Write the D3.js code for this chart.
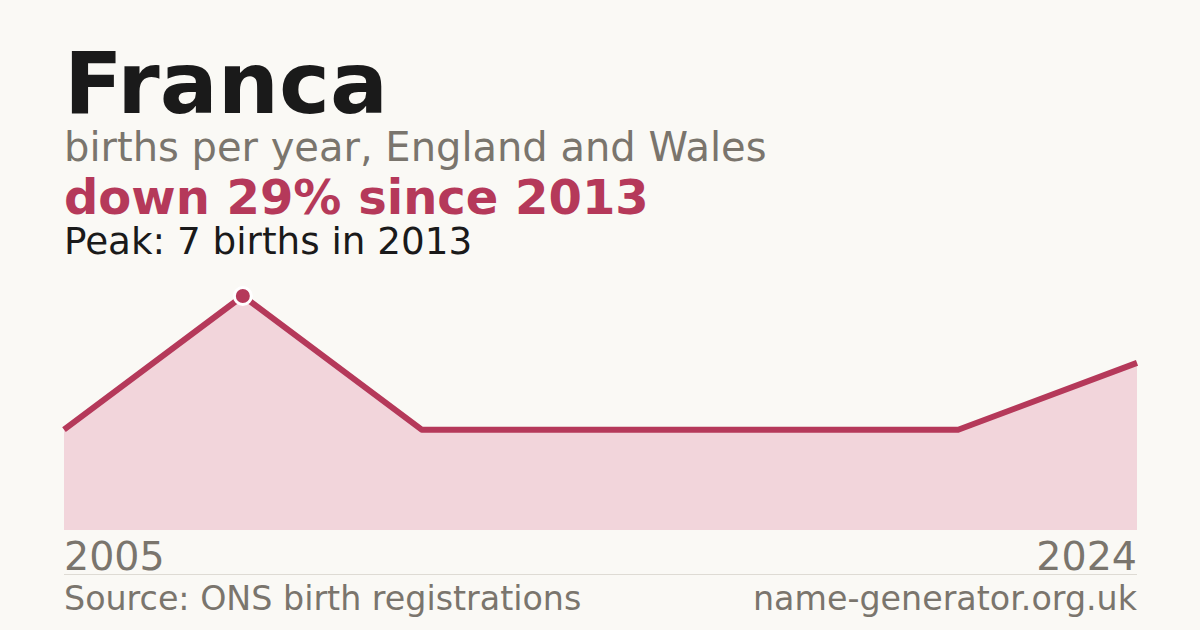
<!DOCTYPE html>
<html>
<head>
<meta charset="utf-8">
<script src="https://cdn.jsdelivr.net/npm/d3@7"></script>
<style>
  html, body { margin: 0; padding: 0; background: #faf9f5; }
  svg { display: block; font-family: "DejaVu Sans", sans-serif; }
</style>
</head>
<body>
<svg id="chart"></svg>
<script>
let width = 1200;
let height = 630;

// data
let years = [2005, 2013, 2016, 2018, 2020, 2022, 2024];
let births = [3, 7, 3, 3, 3, 3, 5];
let peakYear = 2013;
let peakValue = 7;

let title = 'Franca';
let subtitle = 'births per year, England and Wales';
let change = 'down 29% since 2013';
let peakNote = 'Peak: 7 births in 2013';
let source = 'Source: ONS birth registrations';
let site = 'name-generator.org.uk';

let accent = '#b5395a';
let grey = '#7a756d';

let svg = d3.select('#chart')
    .attr('width', width)
    .attr('height', height);

svg.append('rect')
    .attr('width', width)
    .attr('height', height)
    .attr('fill', '#faf9f5');

// header texts
svg.append('text')
    .attr('x', 64).attr('y', 113)
    .attr('font-size', 86).attr('font-weight', 'bold')
    .attr('fill', '#1a1a1a')
    .text(title);
svg.append('text')
    .attr('x', 64).attr('y', 161)
    .attr('font-size', 40)
    .attr('fill', grey)
    .text(subtitle);
svg.append('text')
    .attr('x', 64).attr('y', 214)
    .attr('font-size', 48).attr('font-weight', 'bold')
    .attr('fill', accent)
    .text(change);
svg.append('text')
    .attr('x', 64).attr('y', 254)
    .attr('font-size', 37.3)
    .attr('fill', '#1a1a1a')
    .text(peakNote);

// scales
let x = d3.scalePoint()
    .domain(years)
    .range([64, 1137]);
let y = d3.scaleLinear()
    .domain([0, d3.max(births)])
    .range([530, 296]);

let points = years.map((yr, i) => ({year: yr, value: births[i]}));

let area = d3.area()
    .x(d => x(d.year))
    .y0(y(0))
    .y1(d => y(d.value));
let line = d3.line()
    .x(d => x(d.year))
    .y(d => y(d.value));

svg.append('path')
    .datum(points)
    .attr('d', area)
    .attr('fill', '#f2d5db');

svg.append('path')
    .datum(points)
    .attr('d', line)
    .attr('fill', 'none')
    .attr('stroke', accent)
    .attr('stroke-width', 6)
    .attr('stroke-linejoin', 'round');

// peak marker
svg.append('circle')
    .attr('cx', x(peakYear))
    .attr('cy', y(peakValue))
    .attr('r', 8.5)
    .attr('fill', accent)
    .attr('stroke', '#ffffff')
    .attr('stroke-width', 3);

// year labels (first / last only)
svg.append('text')
    .attr('x', x(years[0])).attr('y', 570)
    .attr('font-size', 39.6)
    .attr('fill', grey)
    .text(years[0]);
svg.append('text')
    .attr('x', x(years[years.length - 1])).attr('y', 570)
    .attr('text-anchor', 'end')
    .attr('font-size', 39.6)
    .attr('fill', grey)
    .text(years[years.length - 1]);

// footer
svg.append('line')
    .attr('x1', 64).attr('x2', 1137)
    .attr('y1', 574.5).attr('y2', 574.5)
    .attr('stroke', '#dedbd4')
    .attr('stroke-width', 1);
svg.append('text')
    .attr('x', 64).attr('y', 610)
    .attr('font-size', 33.3)
    .attr('fill', grey)
    .text(source);
svg.append('text')
    .attr('x', 1137).attr('y', 610)
    .attr('text-anchor', 'end')
    .attr('font-size', 33.3)
    .attr('fill', grey)
    .text(site);
</script>
</body>
</html>
